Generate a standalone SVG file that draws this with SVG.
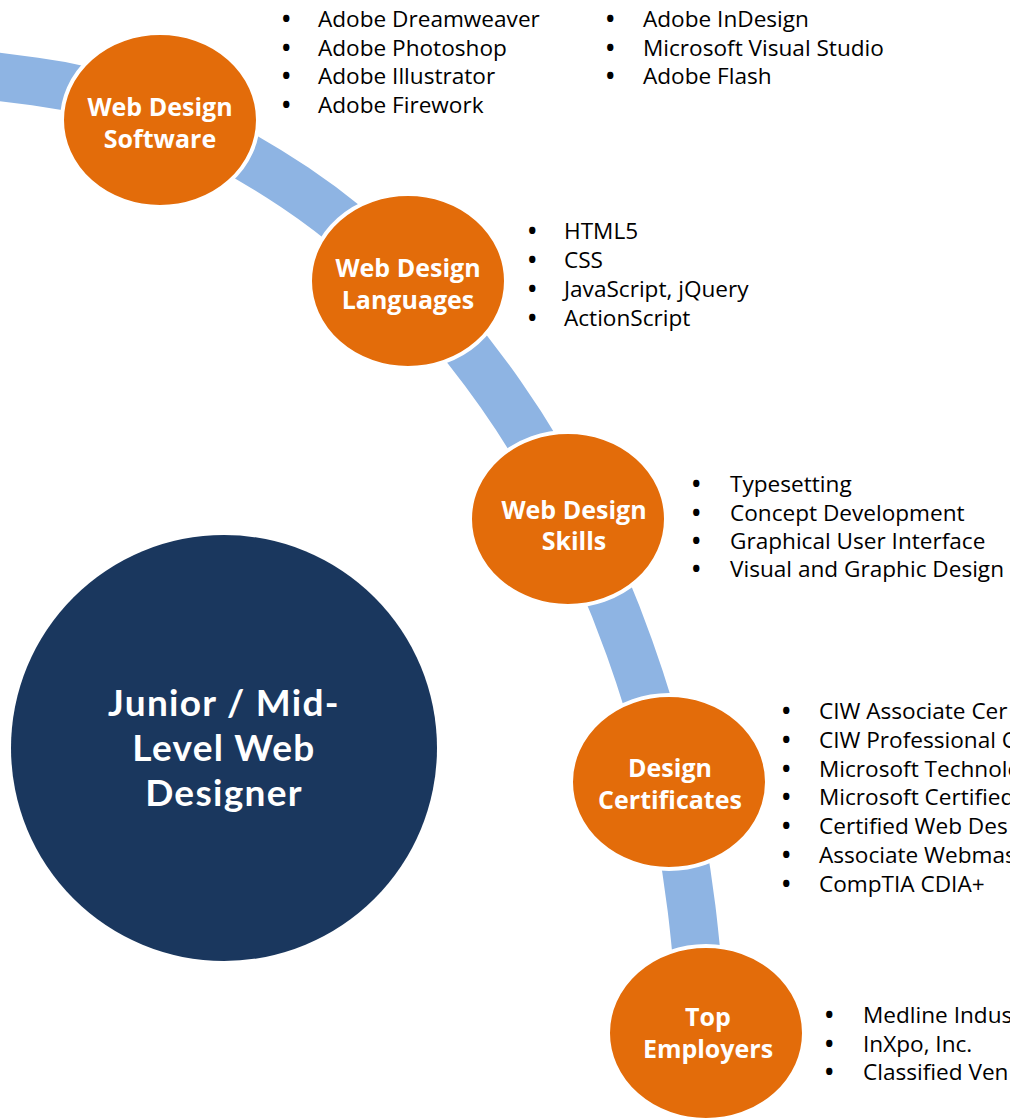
<svg xmlns="http://www.w3.org/2000/svg" width="1010" height="1118" viewBox="0 0 1010 1118">
<style>
.node{fill:#E36C0A;stroke:#FFFFFF;stroke-width:4}
.lbl{font-family:"Open Sans","Noto Sans","Liberation Sans",sans-serif;font-weight:bold;font-size:25px;fill:#FFFFFF;text-anchor:middle}
.big{font-family:Lato,"Open Sans","Liberation Sans",sans-serif;font-weight:bold;font-size:37px;letter-spacing:1.3px;fill:#FFFFFF;text-anchor:middle}
.li{font-family:"Open Sans","Noto Sans","Liberation Sans",sans-serif;font-size:22.6px;fill:#000000}
.bu{font-family:"Open Sans","Noto Sans","Liberation Sans",sans-serif;font-size:22.6px;font-weight:bold;fill:#000000}
.band{fill:none;stroke:#8EB4E3;stroke-width:48}
</style>
<rect width="1010" height="1118" fill="#FFFFFF"/>
<g id="connectors">
<path class="band" d="M -29.5 73.2 L 35 81.5 C 128.2 93.4 216.9 135.2 295 187.5 C 375.6 241.5 444.7 314.6 500.5 394 C 555.1 471.7 597.5 558.6 629.5 648 C 659.5 731.8 680.7 819.7 691.5 908 C 700.5 981.4 704.3 1056.4 712 1130"/>
</g>
<g id="center">
<circle cx="224" cy="748" r="213" fill="#1A375E"/>
<text class="big" x="224" y="716">Junior / Mid-</text>
<text class="big" x="224" y="761">Level Web</text>
<text class="big" x="224" y="806">Designer</text>
</g>
<g id="software">
<ellipse class="node" cx="160" cy="120" rx="98" ry="87"/>
<text class="lbl" x="160" y="116">Web Design</text>
<text class="lbl" x="160" y="148">Software</text>
<g class="bu">
<text x="282" y="27">•</text><text x="282" y="55.5">•</text><text x="282" y="84">•</text><text x="282" y="112.5">•</text>
<text x="606" y="27">•</text><text x="606" y="55.5">•</text><text x="606" y="84">•</text>
</g>
<g class="li">
<text x="318" y="27">Adobe Dreamweaver</text>
<text x="318" y="55.5">Adobe Photoshop</text>
<text x="318" y="84">Adobe Illustrator</text>
<text x="318" y="112.5">Adobe Firework</text>
<text x="643" y="27">Adobe InDesign</text>
<text x="643" y="55.5">Microsoft Visual Studio</text>
<text x="643" y="84">Adobe Flash</text>
</g>
</g>
<g id="languages">
<ellipse class="node" cx="408" cy="281" rx="98" ry="87"/>
<text class="lbl" x="408" y="277">Web Design</text>
<text class="lbl" x="408" y="309">Languages</text>
<g class="bu">
<text x="528" y="239">•</text><text x="528" y="268">•</text><text x="528" y="297">•</text><text x="528" y="326">•</text>
</g>
<g class="li">
<text x="564" y="239">HTML5</text>
<text x="564" y="268">CSS</text>
<text x="564" y="297">JavaScript, jQuery</text>
<text x="564" y="326">ActionScript</text>
</g>
</g>
<g id="skills">
<ellipse class="node" cx="568" cy="519" rx="98" ry="87"/>
<text class="lbl" x="574" y="519">Web Design</text>
<text class="lbl" x="574" y="550">Skills</text>
<g class="bu">
<text x="692" y="492">•</text><text x="692" y="521">•</text><text x="692" y="549">•</text><text x="692" y="577">•</text>
</g>
<g class="li">
<text x="730" y="492">Typesetting</text>
<text x="730" y="521">Concept Development</text>
<text x="730" y="549">Graphical User Interface</text>
<text x="730" y="577">Visual and Graphic Design</text>
</g>
</g>
<g id="certificates">
<ellipse class="node" cx="669" cy="782" rx="98" ry="87"/>
<text class="lbl" x="670" y="777">Design</text>
<text class="lbl" x="670" y="809">Certificates</text>
<g class="bu">
<text x="782" y="719">•</text><text x="782" y="748">•</text><text x="782" y="777">•</text><text x="782" y="805">•</text><text x="782" y="834">•</text><text x="782" y="863">•</text><text x="782" y="892">•</text>
</g>
<g class="li">
<text x="819" y="719">CIW Associate Cer</text>
<text x="819" y="748">CIW Professional C</text>
<text x="819" y="777">Microsoft Technolo</text>
<text x="819" y="805">Microsoft Certified</text>
<text x="819" y="834">Certified Web Des</text>
<text x="819" y="863">Associate Webmas</text>
<text x="819" y="892">CompTIA CDIA+</text>
</g>
</g>
<g id="employers">
<ellipse class="node" cx="706" cy="1033" rx="98" ry="87"/>
<text class="lbl" x="708" y="1026">Top</text>
<text class="lbl" x="708" y="1058">Employers</text>
<g class="bu">
<text x="825" y="1023">•</text><text x="825" y="1052">•</text><text x="825" y="1080">•</text>
</g>
<g class="li">
<text x="863" y="1023">Medline Indus</text>
<text x="863" y="1052">InXpo, Inc.</text>
<text x="863" y="1080">Classified Ven</text>
</g>
</g>
</svg>
